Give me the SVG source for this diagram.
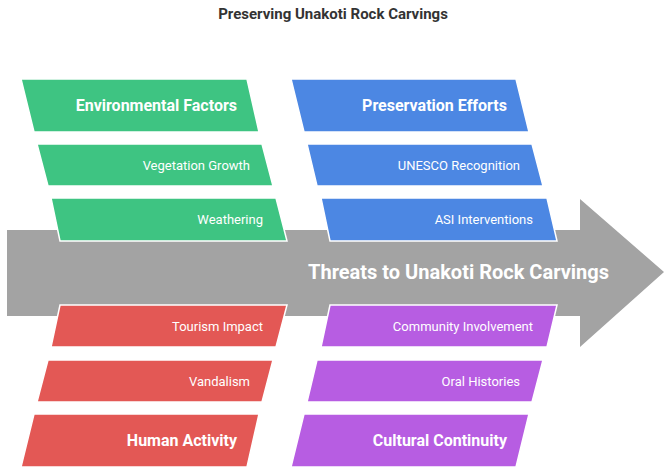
<svg xmlns="http://www.w3.org/2000/svg" width="666" height="468" viewBox="0 0 666 468">
<style>
text{font-family:Roboto,"Liberation Sans",sans-serif;fill:#fff;text-anchor:end;dominant-baseline:central}
.h{font-size:16px;font-weight:bold}
.s{font-size:13px}
.g{fill:#3ec482}.b{fill:#4c87e3}.r{fill:#e35855}.p{fill:#b75de2}
polygon.n{stroke:#fff;stroke-width:1.5}
</style>
<rect width="666" height="468" fill="#fff"/>
<text x="333" y="14" style="fill:#333;text-anchor:middle;font-size:15px;font-weight:bold">Preserving Unakoti Rock Carvings</text>
<g id="connectors">
<polygon points="7,230 580,230 580,199 664,272 580,347 580,316 7,316" fill="#a3a3a3"/>
</g>
<g id="main"><text x="609" y="272" style="font-size:20px;font-weight:bold">Threats to Unakoti Rock Carvings</text></g>
<g id="env"><polygon class="n g" points="21,79 247,79 259,132 34,132"/><text class="h" x="237" y="105">Environmental Factors</text></g>
<g id="veg"><polygon class="n g" points="37,144 262,144 273,186 48,186"/><text class="s" x="250" y="165">Vegetation Growth</text></g>
<g id="wea"><polygon class="n g" points="51,198 276,198 287,241 60,241"/><text class="s" x="263" y="219">Weathering</text></g>
<g id="pres"><polygon class="n b" points="291,79 516,79 529,132 304,132"/><text class="h" x="507" y="105">Preservation Efforts</text></g>
<g id="unesco"><polygon class="n b" points="307,144 532,144 543,186 317,186"/><text class="s" x="520" y="165">UNESCO Recognition</text></g>
<g id="asi"><polygon class="n b" points="321,198 547,198 557,241 330,241"/><text class="s" x="533" y="219">ASI Interventions</text></g>
<g id="tour"><polygon class="n r" points="60,305 287,305 276,347 51,347"/><text class="s" x="263" y="326">Tourism Impact</text></g>
<g id="vand"><polygon class="n r" points="48,360 273,360 262,402 37,402"/><text class="s" x="250" y="381">Vandalism</text></g>
<g id="human"><polygon class="n r" points="34,414 259,414 247,467 21,467"/><text class="h" x="237" y="440">Human Activity</text></g>
<g id="comm"><polygon class="n p" points="330,305 557,305 547,347 321,347"/><text class="s" x="533" y="326">Community Involvement</text></g>
<g id="oral"><polygon class="n p" points="317,360 543,360 532,402 307,402"/><text class="s" x="520" y="381">Oral Histories</text></g>
<g id="cult"><polygon class="n p" points="304,414 529,414 516,467 291,467"/><text class="h" x="507" y="440">Cultural Continuity</text></g>
</svg>
